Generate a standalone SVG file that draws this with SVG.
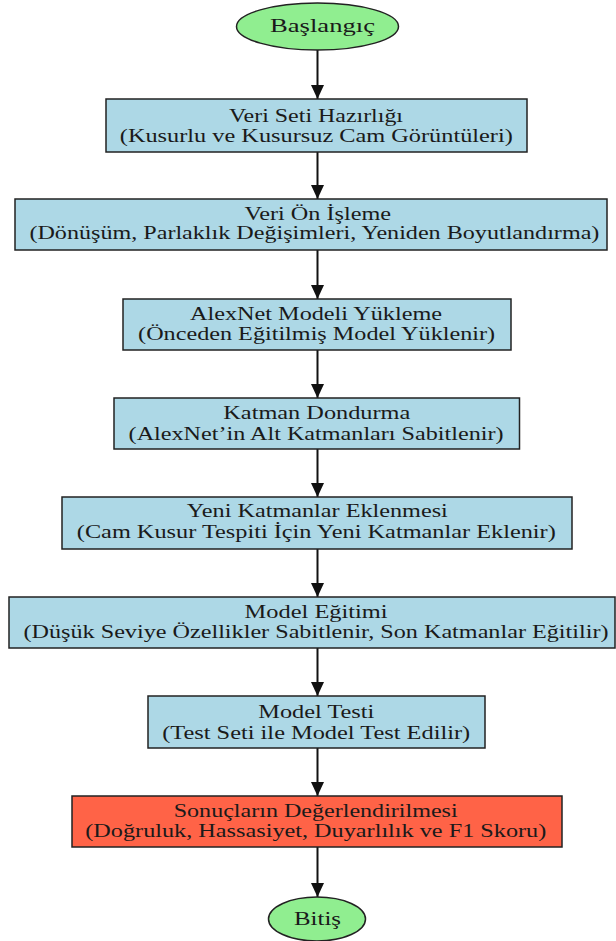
<svg xmlns="http://www.w3.org/2000/svg" width="616" height="941" viewBox="0 0 616 941">
<defs>
<marker id="ah" viewBox="0 0 14 13" refX="14" refY="6.5" markerWidth="14" markerHeight="13" markerUnits="userSpaceOnUse" orient="auto">
<path d="M0,0 L14,6.5 L0,13 Z" fill="#111"/>
</marker>
<style>
.box{fill:#add8e6;stroke:#222;stroke-width:1.5}
.red{fill:#ff6347;stroke:#222;stroke-width:1.5}
.term{fill:#90ee90;stroke:#222;stroke-width:1.5}
text{font-family:"Liberation Serif","Times New Roman",serif;font-size:18px;fill:#1a1a1a;text-anchor:middle}
.edge{stroke:#111;stroke-width:2;fill:none;marker-end:url(#ah)}
</style>
</defs>
<rect width="616" height="941" fill="#fff"/>
<g id="connectors">
<line class="edge" x1="317.5" y1="50" x2="317.5" y2="99"/>
<line class="edge" x1="317.5" y1="152" x2="317.5" y2="199"/>
<line class="edge" x1="317.5" y1="250" x2="317.5" y2="299"/>
<line class="edge" x1="317.5" y1="350" x2="317.5" y2="398"/>
<line class="edge" x1="317.5" y1="449" x2="317.5" y2="497"/>
<line class="edge" x1="317.5" y1="549" x2="317.5" y2="597"/>
<line class="edge" x1="317.5" y1="648" x2="317.5" y2="696"/>
<line class="edge" x1="317.5" y1="748" x2="317.5" y2="796"/>
<line class="edge" x1="317.5" y1="847" x2="317.5" y2="897"/>
</g>
<g id="start">
<ellipse class="term" cx="317.5" cy="26.5" rx="81" ry="23.5"/>
<text x="322.5" y="32" textLength="105" lengthAdjust="spacingAndGlyphs">Başlangıç</text>
</g>
<g id="n1">
<rect class="box" x="106" y="99" width="421" height="53"/>
<text x="316" y="122" textLength="174" lengthAdjust="spacingAndGlyphs">Veri Seti Hazırlığı</text>
<text x="316.3" y="142" textLength="393" lengthAdjust="spacingAndGlyphs">(Kusurlu ve Kusursuz Cam Görüntüleri)</text>
</g>
<g id="n2">
<rect class="box" x="15" y="199" width="592" height="51"/>
<text x="317.7" y="220" textLength="146.6" lengthAdjust="spacingAndGlyphs">Veri Ön İşleme</text>
<text x="314.4" y="239" textLength="570" lengthAdjust="spacingAndGlyphs">(Dönüşüm, Parlaklık Değişimleri, Yeniden Boyutlandırma)</text>
</g>
<g id="n3">
<rect class="box" x="123" y="299" width="388" height="51"/>
<text x="316" y="320" textLength="252" lengthAdjust="spacingAndGlyphs">AlexNet Modeli Yükleme</text>
<text x="316.6" y="340" textLength="357" lengthAdjust="spacingAndGlyphs">(Önceden Eğitilmiş Model Yüklenir)</text>
</g>
<g id="n4">
<rect class="box" x="114" y="398" width="405.5" height="51"/>
<text x="316.8" y="419" textLength="187" lengthAdjust="spacingAndGlyphs">Katman Dondurma</text>
<text x="316.1" y="440" textLength="375" lengthAdjust="spacingAndGlyphs">(AlexNet’in Alt Katmanları Sabitlenir)</text>
</g>
<g id="n5">
<rect class="box" x="62" y="497" width="510" height="52"/>
<text x="317.3" y="517" textLength="261" lengthAdjust="spacingAndGlyphs">Yeni Katmanlar Eklenmesi</text>
<text x="316.3" y="538" textLength="479" lengthAdjust="spacingAndGlyphs">(Cam Kusur Tespiti İçin Yeni Katmanlar Eklenir)</text>
</g>
<g id="n6">
<rect class="box" x="9" y="597" width="606" height="51"/>
<text x="316.1" y="618" textLength="143" lengthAdjust="spacingAndGlyphs">Model Eğitimi</text>
<text x="316" y="638" textLength="585" lengthAdjust="spacingAndGlyphs">(Düşük Seviye Özellikler Sabitlenir, Son Katmanlar Eğitilir)</text>
</g>
<g id="n7">
<rect class="box" x="148" y="696" width="337" height="52"/>
<text x="316.3" y="718" textLength="116" lengthAdjust="spacingAndGlyphs">Model Testi</text>
<text x="316.2" y="739" textLength="308" lengthAdjust="spacingAndGlyphs">(Test Seti ile Model Test Edilir)</text>
</g>
<g id="n8">
<rect class="red" x="72" y="796" width="490" height="51"/>
<text x="315.7" y="817" textLength="284" lengthAdjust="spacingAndGlyphs">Sonuçların Değerlendirilmesi</text>
<text x="315.8" y="837" textLength="461" lengthAdjust="spacingAndGlyphs">(Doğruluk, Hassasiyet, Duyarlılık ve F1 Skoru)</text>
</g>
<g id="end">
<ellipse class="term" cx="317" cy="919" rx="48.5" ry="22"/>
<text x="317.5" y="925" textLength="47" lengthAdjust="spacingAndGlyphs">Bitiş</text>
</g>
</svg>
